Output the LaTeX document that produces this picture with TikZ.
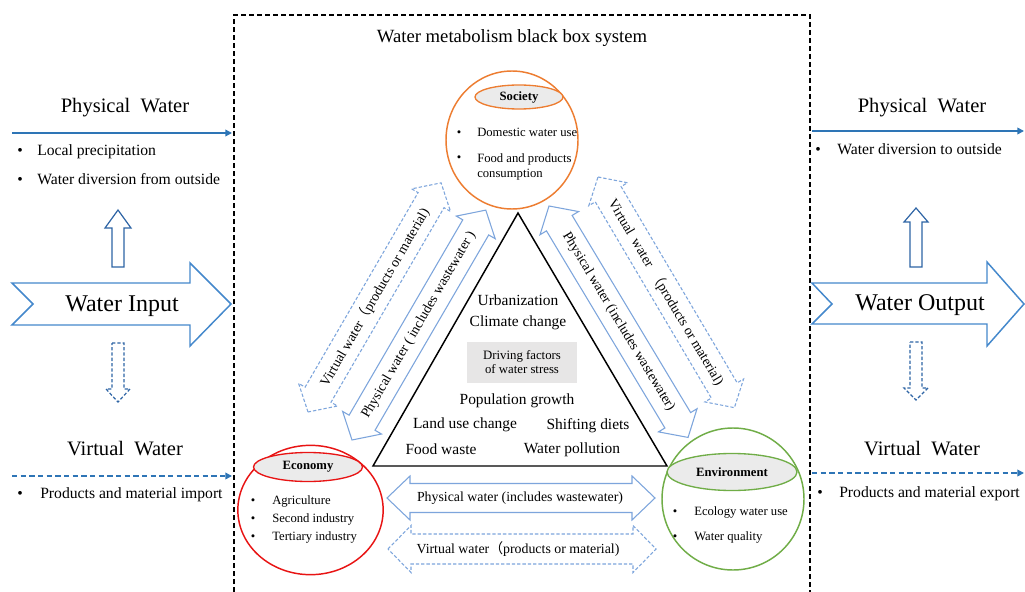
\documentclass[tikz,border=0pt]{standalone}
\usepackage{fontspec}
\setmainfont{Liberation Serif}
\newfontfamily\cjk{Noto Sans CJK SC}
\usetikzlibrary{arrows.meta,shapes.geometric}
\definecolor{lineblue}{RGB}{46,117,182}
\definecolor{bigblue}{RGB}{68,136,204}
\definecolor{smallblue}{RGB}{46,100,165}
\definecolor{lightblue}{RGB}{125,165,220}
\definecolor{socorange}{RGB}{237,125,49}
\definecolor{ecored}{RGB}{232,20,20}
\definecolor{envgreen}{RGB}{112,173,71}
\definecolor{ellgray}{RGB}{235,235,235}
\definecolor{boxgray}{RGB}{231,230,230}
\tikzset{
  boxline/.style={black, line width=0.9pt, dash pattern=on 3.5pt off 2.5pt},
  titletext/.style={font=\fontsize{14}{16}\selectfont},
  bigtext/.style={font=\fontsize{15.4}{18}\selectfont},
  arrowlabel/.style={font=\fontsize{18}{21}\selectfont},
  outtext/.style={font=\fontsize{11.75}{14}\selectfont, anchor=base west, inner sep=0pt},
  outbul/.style={font=\fontsize{11.75}{14}\selectfont, inner sep=0pt},
  intext/.style={font=\fontsize{9.5}{11.5}\selectfont, anchor=base west, inner sep=0pt, align=left},
  inbul/.style={font=\fontsize{9.5}{11.5}\selectfont, inner sep=0pt},
  tritext/.style={font=\fontsize{11.6}{14}\selectfont, inner sep=0pt},
  arrowtext/.style={font=\fontsize{10.4}{12}\selectfont, inner sep=0pt},
  linearrow/.style={lineblue, line width=1.1pt, -{Triangle[length=5pt,width=5pt]}},
  dashedarrow/.style={lineblue, line width=1.1pt, dash pattern=on 4pt off 2.5pt, -{Triangle[length=5pt,width=5pt]}},
  bigarrow/.style={bigblue, line width=1.1pt, line join=miter},
  smallarrow/.style={smallblue, line width=0.9pt},
  smalldashed/.style={smallblue, line width=0.9pt, dash pattern=on 2.5pt off 1.5pt},
  solidblock/.style={lightblue, line width=0.8pt},
  dashedblock/.style={lightblue, line width=0.8pt, dash pattern=on 2.5pt off 1.5pt},
  sector/.style={ellipse, line width=1.1pt, inner sep=0pt},
  sectorlabel/.style={ellipse, fill=ellgray, line width=1pt, inner sep=0pt, font=\bfseries\fontsize{9.5}{11}\selectfont},
}
% #1 style, #2 x, #3 y, #4 angle, #5 length, #6 shaft half, #7 head half, #8 head length, #9 name
\newcommand\blockdarrow[9]{%
  \begin{scope}[xshift={#2*0.75pt}, yshift={-#3*0.75pt}, rotate=#4, x=0.75pt, y=0.75pt]
    \draw[#1] (0,0) -- (#8,#7) -- (#8,#6) -- ({#5-#8},#6) -- ({#5-#8},#7) -- (#5,0)
      -- ({#5-#8},-#7) -- ({#5-#8},-#6) -- (#8,-#6) -- (#8,-#7) -- cycle;
    \coordinate (#9) at ({#5/2},0);
  \end{scope}}
\newcommand\lpar{{\cjk （}}
\begin{document}
\begin{tikzpicture}[x=0.75pt, y=-0.75pt]
\useasboundingbox (0,0) rectangle (1025,592);
\fill[white] (0,0) rectangle (1025,592);

% black box
\draw[boxline] (234,592) -- (234,15) -- (810,15) -- (810,592);
\node[titletext] (title) at (512,38) {Water metabolism black box system};

% ---------- left: input ----------
\node[bigtext] (pwL) at (125,108) {Physical\enspace Water};
\coordinate (pwLa) at (12,133); \coordinate (pwLb) at (232,133);
\draw[linearrow] (pwLa) -- (pwLb);
\node[outbul] (bL1) at (20,152) {\textbullet};
\node[outtext] (tL1) at (37,155) {Local precipitation};
\node[outbul] (bL2) at (20,181) {\textbullet};
\node[outtext] (tL2) at (37,184) {Water diversion from outside};

\draw[smallarrow] (112,267) -- (112,228) -- (105,228) -- (118,210) -- (131,228) -- (124,228) -- (124,267) -- cycle;
\draw[bigarrow] (12,283) -- (190,283) -- (190,263) -- (231,304) -- (190,346) -- (190,325) -- (12,325) -- (33,304) -- cycle;
\node[arrowlabel] (win) at (122,306) {Water Input};
\draw[smalldashed] (112,343) -- (124,343) -- (124,389) -- (130,389) -- (118,402) -- (106,389) -- (112,389) -- cycle;

\node[bigtext] (vwL) at (125,449) {Virtual\enspace Water};
\coordinate (vwLa) at (12,476); \coordinate (vwLb) at (232,476);
\draw[dashedarrow] (vwLa) -- (vwLb);
\node[outbul] (bL3) at (20,495) {\textbullet};
\node[outtext] (tL3) at (40,498) {Products and material import};

% ---------- right: output ----------
\node[bigtext] (pwR) at (922,108) {Physical\enspace Water};
\coordinate (pwRa) at (812,131); \coordinate (pwRb) at (1024,131);
\draw[linearrow] (pwRa) -- (pwRb);
\node[outbul] (bR1) at (818,151) {\textbullet};
\node[outtext] (tR1) at (837,154) {Water diversion to outside};

\draw[smallarrow] (910,267) -- (910,222) -- (904,222) -- (916,208) -- (928,222) -- (922,222) -- (922,267) -- cycle;
\draw[bigarrow] (812,283) -- (987,283) -- (987,262) -- (1024,304) -- (987,346) -- (987,324) -- (812,324) -- (832,304) -- cycle;
\node[arrowlabel] (wout) at (920,305) {Water Output};
\draw[smalldashed] (910,342) -- (922,342) -- (922,388) -- (928,388) -- (916,400) -- (904,388) -- (910,388) -- cycle;

\node[bigtext] (vwR) at (922,449) {Virtual\enspace Water};
\coordinate (vwRa) at (812,473); \coordinate (vwRb) at (1024,473);
\draw[dashedarrow] (vwRa) -- (vwRb);
\node[outbul] (bR3) at (820,494) {\textbullet};
\node[outtext] (tR3) at (839,497) {Products and material export};

% ---------- exchange arrows ----------
\blockdarrow{solidblock}{352}{440}{59.8}{266}{15}{22.5}{20}{pL}
\node[arrowtext, rotate=59.8] (pLt) at (pL) {Physical water ( includes wastewater )};
\blockdarrow{dashedblock}{308}{412}{59.85}{265}{15}{22.5}{20}{vL}
\node[arrowtext, rotate=59.85] (vLt) at (vL) {Virtual water\lpar products or material)};
\blockdarrow{solidblock}{549}{206}{-59}{270}{15}{22.5}{20}{pR}
\node[arrowtext, rotate=-59] (pRt) at (pR) {Physical water (includes wastewater)};
\blockdarrow{dashedblock}{598}{177}{-59.4}{268}{15}{22.5}{20}{vR}
\node[arrowtext, rotate=-59.4] (vRt) at (vR) {Virtual\enspace water\enspace\lpar products or material)};
\blockdarrow{solidblock}{387}{498}{0}{268}{14.5}{22}{23}{pB}
\node[arrowtext] (pBt) at (520,498) {Physical water (includes wastewater)};
\blockdarrow{dashedblock}{388}{549}{0}{268}{15}{23.5}{23}{vB}
\node[arrowtext] (vBt) at (518,549) {Virtual water\lpar products or material)};

% ---------- triangle ----------
\coordinate (tA) at (518,213); \coordinate (tB) at (667,466); \coordinate (tC) at (373,466);
\draw[black, line width=1.1pt, line join=miter] (tA) -- (tB) -- (tC) -- cycle;
\node[tritext] (f1) at (518,300) {Urbanization};
\node[tritext] (f2) at (518,323) {Climate change};
\node[fill=boxgray, minimum width=82.5pt, minimum height=30.75pt, inner sep=0pt, align=center,
      font=\fontsize{9.6}{10.5}\selectfont] (drv) at (522,362) {Driving factors\\of water stress};
\node[tritext] (f3) at (517,401) {Population growth};
\node[tritext] (f4) at (465,425) {Land use change};
\node[tritext] (f5) at (588,426) {Shifting diets};
\node[tritext] (f6) at (441,449) {Food waste};
\node[tritext] (f7) at (572,450) {Water pollution};

% ---------- society ----------
\node[sector, draw=socorange, minimum width=99pt, minimum height=103.5pt] (soc) at (512,140) {};
\node[sectorlabel, draw=socorange, minimum width=66pt, minimum height=18pt] (socl) at (519,97) {Society};
\node[inbul] (sb1) at (459,134) {\textbullet};
\node[intext] (st1) at (477,136.5) {Domestic water use};
\node[inbul] (sb2) at (459,159) {\textbullet};
\node[intext, anchor=north west] (st2) at (477,153) {Food and products\\consumption};

% ---------- economy ----------
\node[sector, draw=ecored, minimum width=109pt, minimum height=97pt] (eco) at (310.5,510) {};
\node[sectorlabel, draw=ecored, minimum width=81.75pt, minimum height=21.75pt] (ecol) at (308,467) {Economy};
\node[inbul] (eb1) at (253,502) {\textbullet};
\node[intext] (et1) at (272,504.5) {Agriculture};
\node[inbul] (eb2) at (253,520) {\textbullet};
\node[intext] (et2) at (272,522.5) {Second industry};
\node[inbul] (eb3) at (253,538) {\textbullet};
\node[intext] (et3) at (272,540.5) {Tertiary industry};

% ---------- environment ----------
\node[sector, draw=envgreen, minimum width=106.5pt, minimum height=106.5pt] (env) at (733,499) {};
\node[sectorlabel, draw=envgreen, minimum width=97.5pt, minimum height=27.75pt] (envl) at (732,472) {Environment};
\node[inbul] (nb1) at (675,513) {\textbullet};
\node[intext] (nt1) at (694,515.5) {Ecology water use};
\node[inbul] (nb2) at (675,538) {\textbullet};
\node[intext] (nt2) at (694,540.5) {Water quality};
\end{tikzpicture}
\end{document}
